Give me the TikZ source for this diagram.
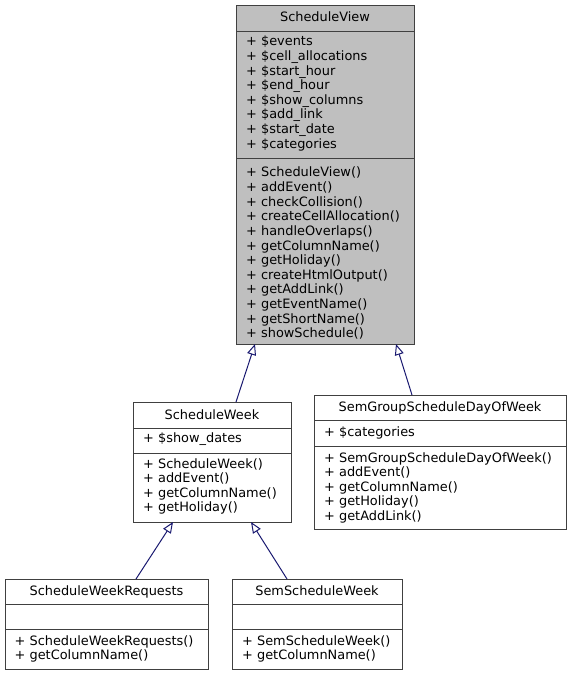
\documentclass[tikz,border=0pt]{standalone}
\usepackage{fontspec}
\setmainfont{DejaVu Sans}
\usetikzlibrary{arrows.meta}
\definecolor{edgeblue}{HTML}{191970}
\definecolor{boxline}{HTML}{404040}
\definecolor{mainfill}{HTML}{BFBFBF}
\tikzset{
  cls/.style={draw=boxline, line width=1pt, fill=white, rectangle, inner sep=0pt, outer sep=0pt, anchor=north west},
  sepline/.style={draw=boxline, line width=1pt},
  ttl/.style={anchor=base, inner sep=0pt, font=\fontsize{12.9}{14.6}\selectfont},
  mem/.style={anchor=base west, inner sep=0pt, font=\fontsize{12.9}{14.6}\selectfont},
  inh/.style={draw=edgeblue, line width=1pt, -{Triangle[fill=white, length=11pt, width=9pt]}},
}
\begin{document}
\begin{tikzpicture}[x=1pt,y=-1pt]
\useasboundingbox (0,0) rectangle (571,676);
% ScheduleView
\node[cls, fill=mainfill, minimum width=178pt, minimum height=338pt] (sv) at (236,6) {};
\draw[sepline] (sv.north west) ++(0,26) -- ++(178,0);
\draw[sepline] (sv.north west) ++(0,153) -- ++(178,0);
\node[ttl] (svt) at (325,22) {ScheduleView};
\foreach \t [count=\i] in {+ \$events, + \$cell\_allocations, + \$start\_hour, + \$end\_hour, + \$show\_columns, + \$add\_link, + \$start\_date, + \$categories}
  \node[mem] (sva\i) at (246,{46+(\i-1)*14.6}) {\t};
\foreach \t [count=\i] in {+ ScheduleView(), + addEvent(), + checkCollision(), + createCellAllocation(), + handleOverlaps(), + getColumnName(), + getHoliday(), + createHtmlOutput(), + getAddLink(), + getEventName(), + getShortName(), + showSchedule()}
  \node[mem] (svm\i) at (246,{177+(\i-1)*14.6}) {\t};
% ScheduleWeek
\node[cls, minimum width=158pt, minimum height=120pt] (sw) at (133,402) {};
\draw[sepline] (sw.north west) ++(0,26) -- ++(158,0);
\draw[sepline] (sw.north west) ++(0,51) -- ++(158,0);
\node[ttl] (swt) at (212,419) {ScheduleWeek};
\node[mem] (swa1) at (143,442) {+ \$show\_dates};
\foreach \t [count=\i] in {+ ScheduleWeek(), + addEvent(), + getColumnName(), + getHoliday()}
  \node[mem] (swm\i) at (143,{468+(\i-1)*14.6}) {\t};
% SemGroupScheduleDayOfWeek
\node[cls, minimum width=252pt, minimum height=134pt] (sg) at (314,395) {};
\draw[sepline] (sg.north west) ++(0,25) -- ++(252,0);
\draw[sepline] (sg.north west) ++(0,51) -- ++(252,0);
\node[ttl] (sgt) at (440,411) {SemGroupScheduleDayOfWeek};
\node[mem] (sga1) at (324,436) {+ \$categories};
\foreach \t [count=\i] in {+ SemGroupScheduleDayOfWeek(), + addEvent(), + getColumnName(), + getHoliday(), + getAddLink()}
  \node[mem] (sgm\i) at (324,{462+(\i-1)*14.6}) {\t};
% ScheduleWeekRequests
\node[cls, minimum width=203pt, minimum height=90pt] (swr) at (5,579) {};
\draw[sepline] (swr.north west) ++(0,25) -- ++(203,0);
\draw[sepline] (swr.north west) ++(0,50) -- ++(203,0);
\node[ttl] (swrt) at (106.5,595) {ScheduleWeekRequests};
\node[mem] (swrm1) at (14.5,645) {+ ScheduleWeekRequests()};
\node[mem] (swrm2) at (14.5,659.6) {+ getColumnName()};
% SemScheduleWeek
\node[cls, minimum width=170pt, minimum height=90pt] (ssw) at (232,579) {};
\draw[sepline] (ssw.north west) ++(0,25) -- ++(170,0);
\draw[sepline] (ssw.north west) ++(0,50) -- ++(170,0);
\node[ttl] (sswt) at (317,595) {SemScheduleWeek};
\node[mem] (sswm1) at (242,645) {+ SemScheduleWeek()};
\node[mem] (sswm2) at (242,659.6) {+ getColumnName()};
% inheritance
\draw[inh] ([xshift=103pt]sw.north west) -- ([xshift=19pt]sv.south west);
\draw[inh] ([xshift=98pt]sg.north west) -- ([xshift=160pt]sv.south west);
\draw[inh] ([xshift=131pt]swr.north west) -- ([xshift=40pt]sw.south west);
\draw[inh] ([xshift=55pt]ssw.north west) -- ([xshift=118pt]sw.south west);
\end{tikzpicture}
\end{document}
